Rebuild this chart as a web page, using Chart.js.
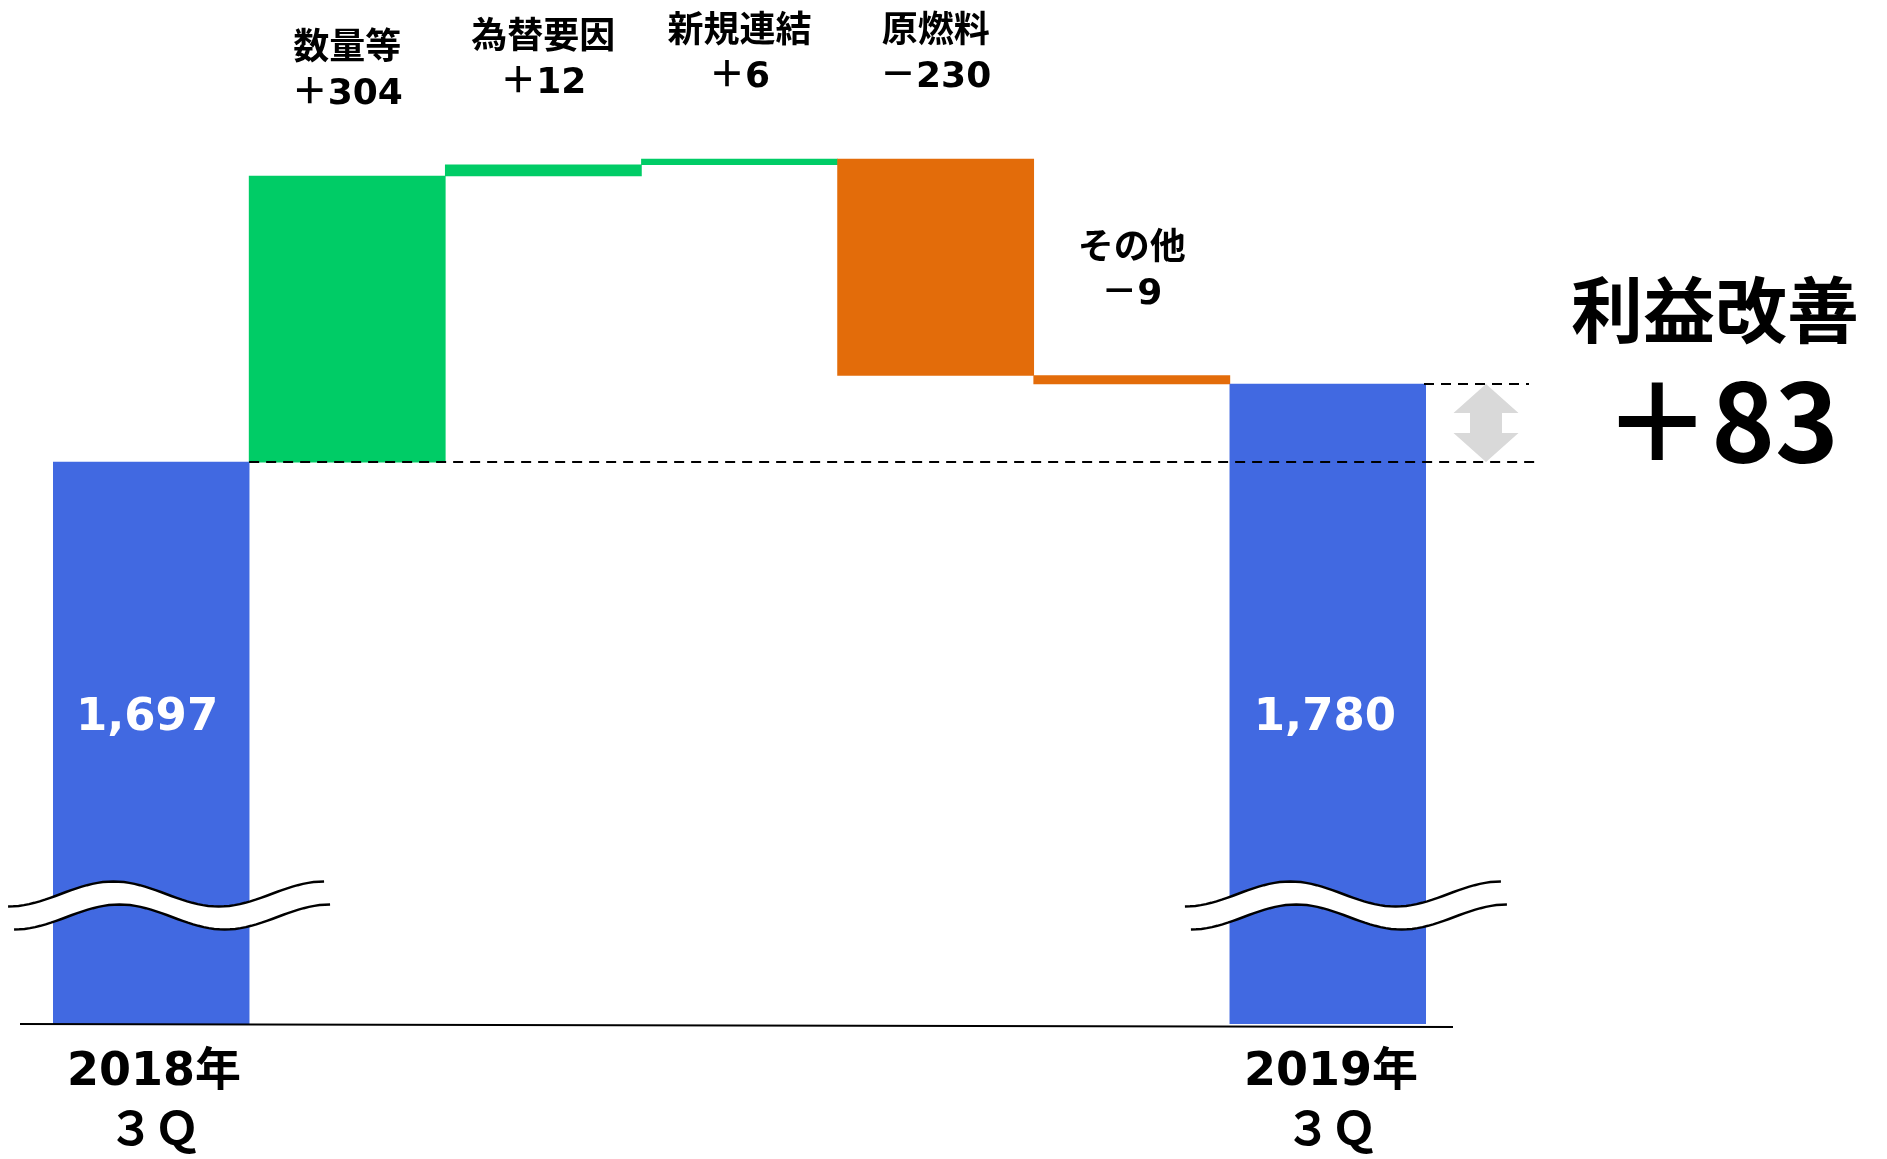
<!DOCTYPE html>
<html lang="ja">
<head>
<meta charset="utf-8">
<script src="https://cdn.jsdelivr.net/npm/chart.js@4.4.1/dist/chart.umd.min.js"></script>
<style>
  html, body { margin: 0; padding: 0; background: #fff; }
</style>
</head>
<body>
<canvas id="bridge" width="1887" height="1159"></canvas>
<script>
const startLabel = ["2018年", "３Ｑ"];
const endLabel = ["2019年", "３Ｑ"];
const stepLabels = ["数量等", "為替要因", "新規連結", "原燃料", "その他"];
const startValue = 1697;
const stepValues = [304, 12, 6, -230, -9];
const endValue = 1780;
const gainTitle = "利益改善";

// axis is broken at the bottom, so it does not start at zero
const yMin = 1100;
const yMax = 2188;

const BLUE = "#4169E1";
const GREEN = "#00CC66";
const ORANGE = "#E36C0A";
const LABEL_FONT = '"DejaVu Sans", "Noto Sans CJK JP", sans-serif';

// build the waterfall: totals are plain bars, steps are floating bars
const categories = [startLabel, ...stepLabels, endLabel];
const bars = [startValue];
const colors = [BLUE];
let running = startValue;
stepValues.forEach(v => {
  bars.push([running, running + v]);
  colors.push(v >= 0 ? GREEN : ORANGE);
  running += v;
});
bars.push(endValue);
colors.push(BLUE);

function signed(v) {
  return (v >= 0 ? "＋" : "－") + Math.abs(v);
}

// draw the wavy "axis break" mark
function drawBreak(ctx, cx, y, half) {
  const amp = 12.5, steps = 60;
  const curve = (dx, dy) => {
    const pts = [];
    for (let i = 0; i <= steps; i++) {
      const t = i / steps;
      pts.push([cx - half + dx + t * half * 2, y + dy + amp * Math.cos(3 * Math.PI * t)]);
    }
    return pts;
  };
  const top = curve(0, 0);
  const bottom = curve(6, 23);
  ctx.save();
  ctx.beginPath();
  top.forEach((p, i) => i ? ctx.lineTo(p[0], p[1]) : ctx.moveTo(p[0], p[1]));
  bottom.slice().reverse().forEach(p => ctx.lineTo(p[0], p[1]));
  ctx.closePath();
  ctx.fillStyle = "#fff";
  ctx.fill();
  ctx.strokeStyle = "#000";
  ctx.lineWidth = 2.5;
  [top, bottom].forEach(line => {
    ctx.beginPath();
    line.forEach((p, i) => i ? ctx.lineTo(p[0], p[1]) : ctx.moveTo(p[0], p[1]));
    ctx.stroke();
  });
  ctx.restore();
}

const decorations = {
  id: "decorations",
  afterDatasetsDraw(chart) {
    const ctx = chart.ctx;
    const area = chart.chartArea;
    const y = chart.scales.y;
    const els = chart.getDatasetMeta(0).data;
    const first = els[0], last = els[els.length - 1];

    ctx.save();
    // baseline
    ctx.strokeStyle = "#000";
    ctx.lineWidth = 2;
    ctx.beginPath();
    ctx.moveTo(area.left - 33, area.bottom);
    ctx.lineTo(area.right + 27, area.bottom + 3);
    ctx.stroke();

    // axis breaks on the total bars
    drawBreak(ctx, first.x + 15, area.bottom - 130, 158);
    drawBreak(ctx, last.x + 15, area.bottom - 130, 158);

    // dashed guide lines at start and end level
    const yStart = y.getPixelForValue(startValue);
    const yEnd = y.getPixelForValue(endValue);
    ctx.setLineDash([10, 7]);
    ctx.lineWidth = 2;
    ctx.beginPath();
    ctx.moveTo(first.x + first.width / 2, yStart);
    ctx.lineTo(area.right + 110, yStart);
    ctx.moveTo(area.right - 2, yEnd);
    ctx.lineTo(area.right + 103, yEnd);
    ctx.stroke();
    ctx.setLineDash([]);

    // grey double arrow
    const ax = area.right + 60, hw = 32.5, sw = 16, hh = 29;
    ctx.fillStyle = "#D9D9D9";
    ctx.beginPath();
    ctx.moveTo(ax, yEnd);
    ctx.lineTo(ax + hw, yEnd + hh);
    ctx.lineTo(ax + sw, yEnd + hh);
    ctx.lineTo(ax + sw, yStart - hh);
    ctx.lineTo(ax + hw, yStart - hh);
    ctx.lineTo(ax, yStart);
    ctx.lineTo(ax - hw, yStart - hh);
    ctx.lineTo(ax - sw, yStart - hh);
    ctx.lineTo(ax - sw, yEnd + hh);
    ctx.lineTo(ax - hw, yEnd + hh);
    ctx.closePath();
    ctx.fill();

    ctx.textAlign = "center";
    ctx.textBaseline = "middle";

    // totals inside the blue bars
    ctx.fillStyle = "#fff";
    ctx.font = "bold 45px " + LABEL_FONT;
    ctx.fillText(startValue.toLocaleString("en-US"), first.x - 4, area.bottom - 306);
    ctx.fillText(endValue.toLocaleString("en-US"), last.x - 3, area.bottom - 306);

    // category names under the totals
    ctx.fillStyle = "#000";
    ctx.font = "bold 46px " + LABEL_FONT;
    [[first, startLabel], [last, endLabel]].forEach(([el, lines]) => {
      ctx.fillText(lines[0], el.x + 3, area.bottom + 49);
      ctx.fillText(lines[1], el.x + 3, area.bottom + 109);
    });

    // step names and amounts above the floating bars
    ctx.font = "bold 36px " + LABEL_FONT;
    stepValues.forEach((v, i) => {
      const el = els[i + 1];
      const top = Math.min(el.y, el.base);
      ctx.fillText(stepLabels[i], el.x, top - 126);
      ctx.fillText(signed(v), el.x, top - 81);
    });

    // overall improvement
    ctx.font = 'bold 72px "Noto Sans CJK JP", sans-serif';
    ctx.fillText(gainTitle, area.right + 289, area.top + 310);
    ctx.font = 'bold 108px "Noto Sans CJK JP", sans-serif';
    ctx.fillText(signed(endValue - startValue), area.right + 295, area.top + 421);
    ctx.restore();
  }
};

new Chart(document.getElementById("bridge"), {
  type: "bar",
  data: {
    labels: categories,
    datasets: [{
      data: bars,
      backgroundColor: colors,
      borderWidth: 0,
      barPercentage: 1,
      categoryPercentage: 1
    }]
  },
  options: {
    responsive: false,
    animation: false,
    layout: { padding: { left: 53, right: 461, top: 0, bottom: 135 } },
    plugins: { legend: { display: false }, tooltip: { enabled: false } },
    scales: {
      x: { display: false },
      y: { display: false, min: yMin, max: yMax }
    }
  },
  plugins: [decorations]
});
</script>
</body>
</html>
